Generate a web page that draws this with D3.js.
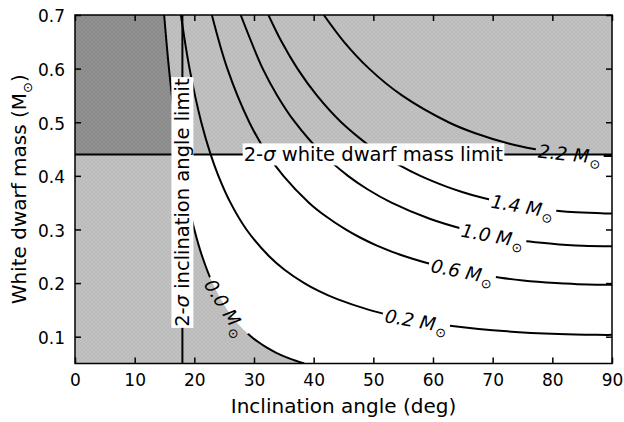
<!DOCTYPE html>
<html><head><meta charset="utf-8">
<script src="https://cdn.jsdelivr.net/npm/d3@7"></script>
<style>
body{margin:0;background:#fff}
svg text{font-family:"DejaVu Sans",sans-serif;fill:#000}
</style>
</head><body>
<svg id="chart" width="624" height="422"></svg>
<script>
// ---------------- data ----------------
const xTicks = [0, 10, 20, 30, 40, 50, 60, 70, 80, 90];
const yTicks = [0.1, 0.2, 0.3, 0.4, 0.5, 0.6, 0.7];
const inclinationLimit = 18.0;   // deg
const massLimit = 0.44;          // Msun
const contourLevels = ["0.0", "0.2", "0.6", "1.0", "1.4", "2.2"];

// contour points: [inclination (deg), white dwarf mass (Msun)]
const curve00 = [[14.94,0.70],[15.75,0.60],[16.76,0.50],[17.52,0.44],[18.10,0.40],[18.96,0.35],[20.00,0.30],[21.31,0.25],[23.05,0.20],[25.53,0.15],[27.66,0.12],[29.55,0.10],[30.72,0.09],[32.09,0.08],[33.74,0.07],[35.79,0.06],[37.01,0.055],[38.42,0.05]];
const curve02 = [[17.75,0.70],[19.20,0.60],[21.16,0.50],[22.73,0.44],[24.03,0.40],[26.05,0.35],[28.73,0.30],[32.53,0.25],[35.11,0.225],[38.42,0.20],[40.91,0.185],[43.96,0.17],[49.29,0.15],[52.81,0.14],[57.25,0.13],[63.22,0.12],[72.45,0.11],[81.10,0.105],[87.40,0.1035],[90.00,0.1034]];
const curve06 = [[22.94,0.70],[25.53,0.60],[29.21,0.50],[32.27,0.44],[34.92,0.40],[39.20,0.35],[41.98,0.325],[45.35,0.30],[47.77,0.285],[50.60,0.27],[55.27,0.25],[61.55,0.23],[65.76,0.22],[71.32,0.21],[75.10,0.205],[80.60,0.20],[82.15,0.199],[84.16,0.198],[87.40,0.197],[90.00,0.1967]];
const curve10 = [[27.77,0.70],[31.46,0.60],[33.88,0.55],[36.87,0.50],[41.57,0.44],[45.75,0.40],[49.02,0.375],[53.04,0.35],[59.44,0.32],[65.36,0.30],[69.33,0.29],[74.56,0.28],[78.20,0.275],[81.16,0.272],[83.90,0.27],[86.00,0.269],[90.00,0.2687]];
const curve14 = [[32.42,0.70],[34.63,0.65],[37.28,0.60],[40.53,0.55],[44.62,0.50],[50.06,0.45],[51.39,0.44],[54.34,0.42],[57.88,0.40],[62.25,0.38],[64.88,0.37],[67.97,0.36],[71.77,0.35],[76.90,0.34],[80.70,0.335],[83.99,0.332],[88.85,0.33],[90.00,0.3299]];
const curve22 = [[41.70,0.70],[45.08,0.65],[49.29,0.60],[54.80,0.55],[62.60,0.50],[66.97,0.48],[72.83,0.46],[76.96,0.45],[79.70,0.445],[83.70,0.44],[86.30,0.438],[90.00,0.437]];
const contourCurves = [curve00, curve02, curve06, curve10, curve14, curve22];

// ---------------- layout ----------------
const W = 624, H = 422;
const mLeft = 75, mRight = 612, mTop = 15, mBottom = 363.5;
const labelInclinations = [25.3, 57.2, 64.9, 70.0, 75.0, 82.9];

const svg = d3.select("#chart");
const x = d3.scaleLinear().domain([0, 90]).range([mLeft, mRight]);
const y = d3.scaleLinear().domain([0.05, 0.7]).range([mBottom, mTop]);
const line = d3.line().x(d => x(d[0])).y(d => y(d[1])).curve(d3.curveCatmullRom.alpha(0.5));

const defs = svg.append("defs");
defs.append("clipPath").attr("id", "plotclip")
  .append("rect").attr("x", mLeft).attr("y", mTop).attr("width", mRight - mLeft).attr("height", mBottom - mTop);
const pat = defs.append("pattern").attr("id", "hatch").attr("patternUnits", "userSpaceOnUse")
  .attr("width", 4).attr("height", 4);
pat.append("rect").attr("width", 4).attr("height", 4).attr("fill", "#000").attr("fill-opacity", 0.245);
pat.append("path").attr("d", "M0,4L4,0M0,0L4,4").attr("stroke", "#000").attr("stroke-opacity", 0.06).attr("stroke-width", 0.6);

const mask = defs.append("mask").attr("id", "lblmask").attr("maskUnits", "userSpaceOnUse")
  .attr("x", 0).attr("y", 0).attr("width", W).attr("height", H);
mask.append("rect").attr("width", W).attr("height", H).attr("fill", "white");

const plot = svg.append("g").attr("clip-path", "url(#plotclip)");

// shaded regions
plot.append("path")
  .attr("d", line(curve00) + `L${x(0)},${y(0.05)}L${x(0)},${y(0.7)}Z`)
  .attr("fill", "url(#hatch)");
plot.append("rect")
  .attr("x", x(0)).attr("y", y(0.7)).attr("width", x(90) - x(0)).attr("height", y(massLimit) - y(0.7))
  .attr("fill", "url(#hatch)");

// contour lines
const cg = plot.append("g").attr("mask", "url(#lblmask)");
contourCurves.forEach(c => {
  cg.append("path").attr("d", line(c)).attr("fill", "none").attr("stroke", "#000").attr("stroke-width", 2);
});

// limit lines
plot.append("line").attr("x1", x(inclinationLimit)).attr("x2", x(inclinationLimit))
  .attr("y1", y(0.05)).attr("y2", y(0.7)).attr("stroke", "#000").attr("stroke-width", 2);
plot.append("line").attr("x1", x(0)).attr("x2", x(90))
  .attr("y1", y(massLimit)).attr("y2", y(massLimit)).attr("stroke", "#000").attr("stroke-width", 2);

// limit labels with white boxes
function boxedLabel(px, py, rot, str) {
  const g = svg.append("g").attr("transform", `translate(${px},${py}) rotate(${rot})`);
  const r = g.append("rect").attr("fill", "#fff");
  const t = g.append("text").attr("text-anchor", "middle").attr("dominant-baseline", "central")
    .style("font-size", "19.5px");
  t.append("tspan").text("2-");
  t.append("tspan").style("font-style", "italic").text("σ");
  t.append("tspan").text(" " + str);
  const b = t.node().getBBox();
  r.attr("x", b.x - 1).attr("y", b.y + 0.5).attr("width", b.width + 2).attr("height", b.height - 1);
}
boxedLabel(x(inclinationLimit), y(0.35), -90, "inclination angle limit");
boxedLabel(x(50), y(massLimit), 0, "white dwarf mass limit");

// contour labels
function interpM(c, inc) {
  for (let k = 0; k < c.length - 1; k++) {
    if (c[k][0] <= inc && c[k + 1][0] >= inc) {
      const t = (inc - c[k][0]) / (c[k + 1][0] - c[k][0]);
      return c[k][1] + t * (c[k + 1][1] - c[k][1]);
    }
  }
  return c[c.length - 1][1];
}
contourCurves.forEach((c, k) => {
  const inc = labelInclinations[k];
  const px = x(inc), py = y(interpM(c, inc));
  const a = x(inc - 1.5), b = x(inc + 1.5);
  const ya = y(interpM(c, inc - 1.5)), yb = y(interpM(c, inc + 1.5));
  const ang = Math.atan2(yb - ya, b - a) * 180 / Math.PI;
  const t = svg.append("text")
    .attr("transform", `translate(${px},${py}) rotate(${ang})`)
    .attr("text-anchor", "middle").attr("dominant-baseline", "central")
    .style("font-size", "18.5px").style("font-style", "italic");
  t.append("tspan").text(contourLevels[k] + " M");
  t.append("tspan").attr("dx", 1).attr("dy", 7).style("font-size", "13px").style("font-style", "normal").text("⊙");
  const w = t.node().getComputedTextLength();
  mask.append("rect").attr("x", -w / 2 - 3).attr("y", -10).attr("width", w + 6).attr("height", 20)
    .attr("fill", "black").attr("transform", `translate(${px},${py}) rotate(${ang})`);
});

// axes
function styleAxis(g) {
  g.select(".domain").remove();
  g.selectAll(".tick line").attr("stroke", "#000").attr("stroke-width", 1.5);
  g.selectAll("text").style("font-size", "17px").attr("font-family", null).style("font-family", '"DejaVu Sans",sans-serif');
}
svg.append("g").attr("transform", `translate(0,${mBottom})`)
  .call(d3.axisBottom(x).tickValues(xTicks).tickFormat(d3.format("d")).tickSize(-6).tickPadding(10.5))
  .call(styleAxis);
svg.append("g").attr("transform", `translate(0,${mTop})`)
  .call(d3.axisTop(x).tickValues(xTicks).tickFormat("").tickSize(-6))
  .call(styleAxis);
svg.append("g").attr("transform", `translate(${mLeft},0)`)
  .call(d3.axisLeft(y).tickValues(yTicks).tickFormat(d3.format(".1f")).tickSize(-6).tickPadding(10))
  .call(styleAxis)
  .selectAll("text").attr("dy", "0.4em");
svg.append("g").attr("transform", `translate(${mRight},0)`)
  .call(d3.axisRight(y).tickValues(yTicks).tickFormat("").tickSize(-6))
  .call(styleAxis);

// frame
svg.append("rect").attr("x", mLeft).attr("y", mTop).attr("width", mRight - mLeft).attr("height", mBottom - mTop)
  .attr("fill", "none").attr("stroke", "#000").attr("stroke-width", 1.5);

// axis titles
svg.append("text").attr("x", (mLeft + mRight) / 2).attr("y", 412.5).attr("text-anchor", "middle")
  .style("font-size", "20px").text("Inclination angle (deg)");
const yl = svg.append("text").attr("transform", `translate(26,${(mTop + mBottom) / 2}) rotate(-90)`)
  .attr("text-anchor", "middle").style("font-size", "20px");
yl.append("tspan").text("White dwarf mass (M");
yl.append("tspan").attr("dy", 6).style("font-size", "13px").text("⊙");
yl.append("tspan").attr("dy", -6).text(")");
</script>
</body></html>
